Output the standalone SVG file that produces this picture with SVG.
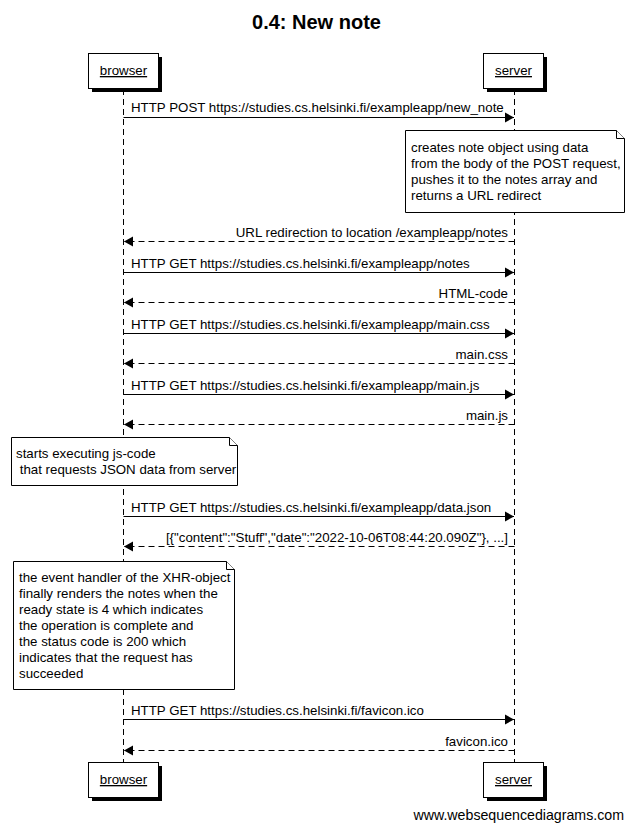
<svg xmlns="http://www.w3.org/2000/svg" width="633" height="830" viewBox="0 0 633 830">
<defs>
<style>
text{font-family:"Liberation Sans",Arial,sans-serif;font-size:13.3px;fill:#000}
.title{font-size:20px;font-weight:bold}
.actor{font-size:13.3px;text-decoration:underline}
.life{stroke:#000;stroke-width:1;stroke-dasharray:6,4;fill:none}
.msg{stroke:#000;stroke-width:1;fill:none}
.ret{stroke:#000;stroke-width:1;stroke-dasharray:6,4;fill:none}
.box{fill:#fff;stroke:#000;stroke-width:1}
.shadow{fill:#000}
.note{fill:#fff;stroke:#000;stroke-width:1}
.fold{fill:#fff;stroke:#000;stroke-width:1}
</style>
<marker id="ah" markerWidth="10" markerHeight="12" refX="9" refY="6" orient="auto" markerUnits="userSpaceOnUse">
<path d="M0,1 L9,6 L0,11 Z" fill="#000"/>
</marker>
</defs>
<rect width="633" height="830" fill="#fff"/>
<text class="title" x="316.5" y="29" text-anchor="middle">0.4: New note</text>

<g id="lifelines">
<line class="life" x1="123.5" y1="89" x2="123.5" y2="763"/>
<line class="life" x1="514.5" y1="89" x2="514.5" y2="763"/>
</g>

<g id="browser-top">
<rect class="shadow" x="92" y="57" width="70" height="35"/>
<rect class="box" x="88.5" y="53.5" width="70" height="35"/>
<text class="actor" x="123.5" y="75" text-anchor="middle">browser</text>
</g>
<g id="server-top">
<rect class="shadow" x="487" y="57" width="60" height="35"/>
<rect class="box" x="483.5" y="53.5" width="60" height="35"/>
<text class="actor" x="513.5" y="75" text-anchor="middle">server</text>
</g>
<g id="browser-bottom">
<rect class="shadow" x="92" y="766" width="70" height="35"/>
<rect class="box" x="88.5" y="762.5" width="70" height="35"/>
<text class="actor" x="123.5" y="784" text-anchor="middle">browser</text>
</g>
<g id="server-bottom">
<rect class="shadow" x="487" y="766" width="60" height="35"/>
<rect class="box" x="483.5" y="762.5" width="60" height="35"/>
<text class="actor" x="513.5" y="784" text-anchor="middle">server</text>
</g>

<g id="connectors">
<line class="msg" x1="123.5" y1="117.5" x2="514" y2="117.5" marker-end="url(#ah)"/>
<text x="131" y="112">HTTP POST https://studies.cs.helsinki.fi/exampleapp/new_note</text>

<line class="ret" x1="514.5" y1="241.5" x2="124" y2="241.5" marker-end="url(#ah)"/>
<text x="508" y="237" text-anchor="end">URL redirection to location /exampleapp/notes</text>

<line class="msg" x1="123.5" y1="272.5" x2="514" y2="272.5" marker-end="url(#ah)"/>
<text x="131" y="268">HTTP GET https://studies.cs.helsinki.fi/exampleapp/notes</text>

<line class="ret" x1="514.5" y1="302.5" x2="124" y2="302.5" marker-end="url(#ah)"/>
<text x="508" y="298" text-anchor="end">HTML-code</text>

<line class="msg" x1="123.5" y1="333.5" x2="514" y2="333.5" marker-end="url(#ah)"/>
<text x="131" y="329">HTTP GET https://studies.cs.helsinki.fi/exampleapp/main.css</text>

<line class="ret" x1="514.5" y1="363.5" x2="124" y2="363.5" marker-end="url(#ah)"/>
<text x="508" y="359" text-anchor="end">main.css</text>

<line class="msg" x1="123.5" y1="394.5" x2="514" y2="394.5" marker-end="url(#ah)"/>
<text x="131" y="390">HTTP GET https://studies.cs.helsinki.fi/exampleapp/main.js</text>

<line class="ret" x1="514.5" y1="424.5" x2="124" y2="424.5" marker-end="url(#ah)"/>
<text x="508" y="420" text-anchor="end">main.js</text>

<line class="msg" x1="123.5" y1="516.5" x2="514" y2="516.5" marker-end="url(#ah)"/>
<text x="131" y="512">HTTP GET https://studies.cs.helsinki.fi/exampleapp/data.json</text>

<line class="ret" x1="514.5" y1="546.5" x2="124" y2="546.5" marker-end="url(#ah)"/>
<text x="508" y="542" text-anchor="end">[{"content":"Stuff","date":"2022-10-06T08:44:20.090Z"}, ...]</text>

<line class="msg" x1="123.5" y1="719.5" x2="514" y2="719.5" marker-end="url(#ah)"/>
<text x="131" y="715">HTTP GET https://studies.cs.helsinki.fi/favicon.ico</text>

<line class="ret" x1="514.5" y1="750.5" x2="124" y2="750.5" marker-end="url(#ah)"/>
<text x="508" y="746" text-anchor="end">favicon.ico</text>
</g>

<g id="note1">
<path class="note" d="M405.5,130.5 H616.5 L624.5,138.5 V212.5 H405.5 Z"/>
<path class="fold" d="M616.5,130.5 V138.5 H624.5"/>
<text x="411" y="152">creates note object using data</text>
<text x="411" y="168">from the body of the POST request,</text>
<text x="411" y="184">pushes it to the notes array and</text>
<text x="411" y="200">returns a URL redirect</text>
</g>

<g id="note2">
<path class="note" d="M11.5,437.5 H229.5 L237.5,445.5 V485.5 H11.5 Z"/>
<path class="fold" d="M229.5,437.5 V445.5 H237.5"/>
<text x="16" y="458">starts executing js-code</text>
<text x="16" y="474" xml:space="preserve"> that requests JSON data from server</text>
</g>

<g id="note3">
<path class="note" d="M13.5,561.5 H226.5 L234.5,569.5 V689.5 H13.5 Z"/>
<path class="fold" d="M226.5,561.5 V569.5 H234.5"/>
<text x="19" y="582">the event handler of the XHR-object</text>
<text x="19" y="598">finally renders the notes when the</text>
<text x="19" y="614">ready state is 4 which indicates</text>
<text x="19" y="630">the operation is complete and</text>
<text x="19" y="646">the status code is 200 which</text>
<text x="19" y="662">indicates that the request has</text>
<text x="19" y="678">succeeded</text>
</g>

<text x="624" y="820" text-anchor="end" style="font-size:14.2px">www.websequencediagrams.com</text>
</svg>
